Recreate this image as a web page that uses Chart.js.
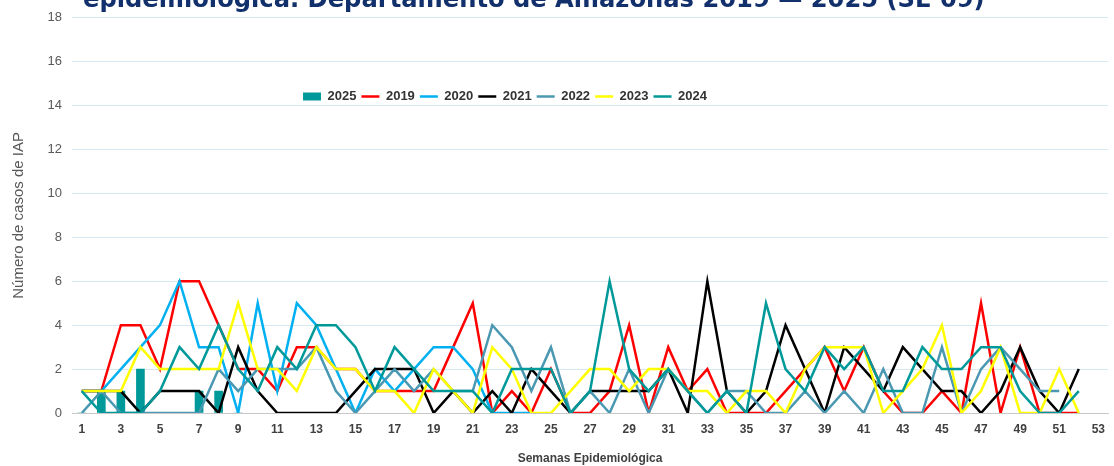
<!DOCTYPE html>
<html>
<head>
<meta charset="utf-8">
<script src="https://cdn.jsdelivr.net/npm/chart.js@4.4.1/dist/chart.umd.min.js"></script>
<style>
  body { margin: 0; background: #fff; }
  #wrap { width: 1114px; height: 466px; position: relative; }
</style>
</head>
<body>
<div id="wrap"><canvas id="iapChart"></canvas></div>
<script>
// semanas epidemiologicas 1..53
const weeks = [];
for (let w = 1; w <= 53; w++) weeks.push(String(w));

const yTicks = [0, 2, 4, 6, 8, 10, 12, 14, 16, 18];

const cases2025 = [0, 1, 1, 2, 0, 0, 1, 1, 0];
const cases2019 = [1, 1, 4, 4, 2, 6, 6, 4, 2, 2, 1, 3, 3, 2, 2, 1, 1, 1, 1, 3, 5, 0, 1, 0, 2, 0, 0, 1, 4, 0, 3, 1, 2, 0, 0, 0, 1, 2, 3, 1, 3, 1, 0, 0, 1, 0, 5, 0, 3, 0, 0, 0];
const cases2020 = [1, 1, 2, 3, 4, 6, 3, 3, 0, 5, 1, 5, 4, 2, 0, 2, 1, 2, 3, 3, 2, 0, 0, 0];
const cases2021 = [1, 1, 1, 0, 1, 1, 1, 0, 3, 1, 0, 0, 0, 0, 1, 2, 2, 2, 0, 1, 0, 1, 0, 2, 1, 0, 1, 1, 1, 1, 2, 0, 6, 1, 0, 1, 4, 2, 0, 3, 2, 1, 3, 2, 1, 1, 0, 1, 3, 1, 0, 2];
const cases2022 = [0, 1, 0, 0, 0, 0, 0, 2, 1, 2, 2, 2, 3, 1, 0, 1, 2, 1, 2, 1, 1, 4, 3, 1, 3, 0, 1, 0, 2, 0, 2, 1, 0, 1, 1, 0, 0, 1, 0, 1, 0, 2, 0, 0, 3, 0, 2, 3, 2, 1, 1];
const cases2023 = [1, 1, 1, 3, 2, 2, 2, 2, 5, 2, 2, 1, 3, 2, 2, 1, 1, 0, 2, 1, 0, 3, 2, 0, 0, 1, 2, 2, 1, 2, 2, 1, 1, 0, 1, 1, 0, 2, 3, 3, 3, 0, 1, 2, 4, 0, 1, 3, 0, 0, 2, 0];
const cases2024 = [1, 0, 0, 0, 1, 3, 2, 4, 2, 1, 3, 2, 4, 4, 3, 1, 3, 2, 1, 1, 1, 0, 2, 2, 2, 0, 1, 6, 2, 1, 2, 1, 0, 1, 0, 5, 2, 1, 3, 2, 3, 1, 1, 3, 2, 2, 3, 3, 1, 0, 0, 1];

const titleText = 'epidemiológica. Departamento de Amazonas 2019 — 2025 (SE 09)';

function lineSet(label, data, color, order) {
    return {
        type: 'line',
        label: label,
        data: data,
        borderColor: color,
        backgroundColor: color,
        borderWidth: 2.5,
        pointRadius: 0,
        pointStyle: 'line',
        tension: 0,
        fill: false,
        order: order
    };
}

// legend sits inside the plot, title is cut at the top edge
const extras = {
    id: 'extras',
    beforeLayout(chart) {
        const lg = chart.legend;
        if (lg && !lg._flat) {
            const fit = lg.fit;
            lg.fit = function () {
                fit.call(this);
                this.height = 0;
            };
            lg._flat = true;
        }
    },
    afterLayout(chart) {
        const lg = chart.legend;
        if (!lg) return;
        lg.left = 298;
        lg.right = chart.width;
        lg.top = 85;
        lg.bottom = 115;
    },
    afterDraw(chart) {
        const ctx = chart.ctx;
        ctx.save();
        ctx.font = 'bold 24px "DejaVu Sans"';
        const w = ctx.measureText(titleText).width;
        const size = 24 * 902 / w;
        ctx.font = 'bold ' + size + 'px "DejaVu Sans"';
        ctx.fillStyle = '#12306b';
        ctx.textBaseline = 'alphabetic';
        ctx.textAlign = 'left';
        ctx.fillText(titleText, 83, 7);
        ctx.restore();
    }
};

const ctx = document.getElementById('iapChart').getContext('2d');
new Chart(ctx, {
    type: 'bar',
    data: {
        labels: weeks,
        datasets: [
            {
                type: 'bar',
                label: '2025',
                data: cases2025,
                backgroundColor: '#009999',
                borderWidth: 0,
                barThickness: 8,
                pointStyle: 'rect',
                order: 10
            },
            lineSet('2019', cases2019, '#ff0000', 6),
            lineSet('2020', cases2020, '#00b0f0', 5),
            lineSet('2021', cases2021, '#000000', 4),
            lineSet('2022', cases2022, '#4a98b2', 3),
            lineSet('2023', cases2023, '#ffff00', 2),
            lineSet('2024', cases2024, '#009999', 1)
        ]
    },
    options: {
        responsive: true,
        maintainAspectRatio: false,
        animation: false,
        layout: { padding: { top: 17, left: 0, right: 0, bottom: 0 } },
        plugins: {
            legend: {
                display: true,
                position: 'top',
                align: 'start',
                labels: {
                    usePointStyle: true,
                    pointStyleWidth: 18,
                    boxHeight: 8,
                    padding: 5,
                    color: '#333333',
                    font: { family: '"Liberation Sans", Arial', size: 13, weight: 'bold' },
                    sort: (a, b) => a.datasetIndex - b.datasetIndex
                }
            },
            tooltip: { enabled: false }
        },
        scales: {
            x: {
                offset: true,
                grid: { display: false, drawTicks: false },
                border: { display: true, color: '#c8c8c8', width: 1 },
                ticks: {
                    autoSkip: false,
                    maxRotation: 0,
                    padding: 9,
                    color: '#404040',
                    font: { family: '"Liberation Sans", Arial', size: 12, weight: 'bold' },
                    callback: function (value, index) {
                        return index % 2 === 0 ? weeks[index] : '';
                    }
                },
                title: {
                    display: true,
                    text: 'Semanas Epidemiológica',
                    color: '#404040',
                    font: { family: '"Liberation Sans", Arial', size: 12, weight: 'bold' },
                    padding: { top: 0, bottom: 0 }
                },
                afterFit: function (scale) { scale.height = 53; }
            },
            y: {
                min: 0,
                max: 18,
                grid: { color: '#d6e8f0', drawTicks: false, lineWidth: 1 },
                border: { display: false },
                afterBuildTicks: function (scale) {
                    scale.ticks = yTicks.map(v => ({ value: v }));
                },
                ticks: {
                    padding: 10,
                    color: '#595959',
                    font: { family: '"Liberation Sans", Arial', size: 13 }
                },
                title: {
                    display: true,
                    text: 'Número de casos de IAP',
                    color: '#595959',
                    font: { family: '"Liberation Sans", Arial', size: 15 },
                    padding: { top: 10, bottom: 0 }
                },
                afterFit: function (scale) { scale.width = 72; }
            }
        }
    },
    plugins: [extras]
});
</script>
</body>
</html>
